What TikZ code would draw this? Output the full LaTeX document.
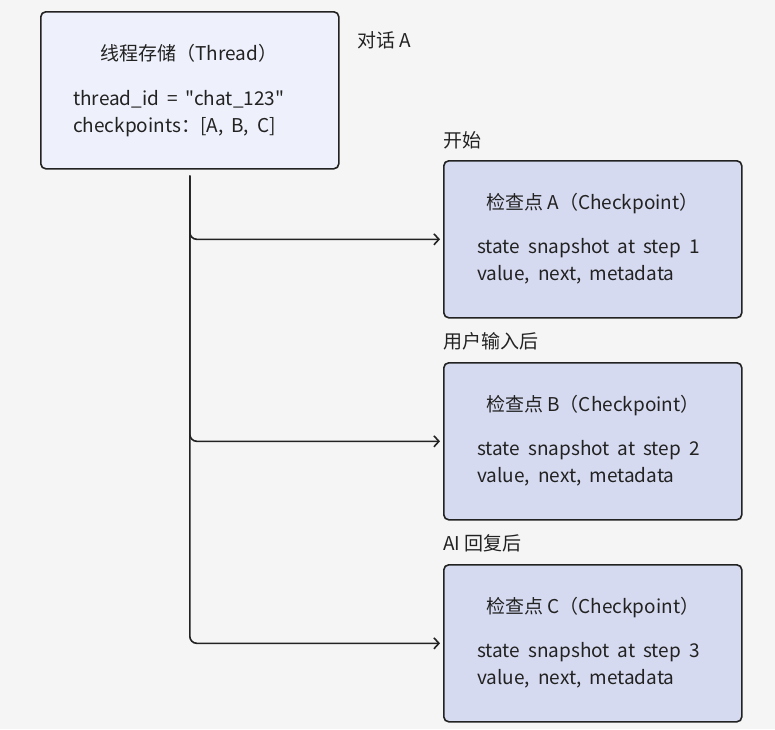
\documentclass[tikz,border=0pt]{standalone}
\usepackage{fontspec}
\newfontfamily\cjk{Noto Sans CJK SC}
\setmainfont{Noto Sans CJK SC}
\usetikzlibrary{arrows.meta,calc}
\definecolor{bg}{HTML}{F5F5F5}
\definecolor{threadfill}{HTML}{EEF0FB}
\definecolor{cpfill}{HTML}{D6DAF0}
\definecolor{ink}{HTML}{222222}
\newcommand\widesp{\spaceskip=0.42em\relax}
\begin{document}
\begin{tikzpicture}[x=1pt,y=-1pt,
  box/.style={draw=ink,line width=1.6pt,rounded corners=5pt,minimum width=298pt,minimum height=157pt,anchor=north west},
  ttl/.style={font=\cjk\fontsize{19}{28}\selectfont,text=ink,anchor=west,inner sep=0pt},
  txt/.style={font={\cjk\fontsize{19}{28}\selectfont\widesp},text=ink,anchor=west,inner sep=0pt},
  lbl/.style={font=\cjk\fontsize{19}{22}\selectfont,text=ink,anchor=west,inner sep=0pt},
  conn/.style={draw=ink,line width=1.6pt,rounded corners=7pt,-{Straight Barb[length=5pt,width=11pt]},shorten >=3pt}]
\fill[bg] (0,0) rectangle (775,729);
\useasboundingbox (0,0) rectangle (775,729);
\node[box,fill=threadfill] (thread) at (40,11) {};
\node[box,fill=cpfill] (cpA) at (443,160) {};
\node[box,fill=cpfill] (cpB) at (443,362) {};
\node[box,fill=cpfill] (cpC) at (443,564) {};
% thread text
\node[ttl,anchor=center] (tt) at (189,53) {线程存储（Thread）};
\node[txt] (t1) at (73,99) {thread\_id = "chat\_123"};
\node[txt] (t2) at (73,127) {checkpoints：[A, B, C]};
% checkpoint texts
\node[ttl] (a0) at (486,204) {检查点 A（Checkpoint）};
\node[txt] (a1) at (477,248) {state snapshot at step 1};
\node[txt] (a2) at (477,275) {value, next, metadata};
\node[ttl] (b0) at (486,406) {检查点 B（Checkpoint）};
\node[txt] (b1) at (477,450) {state snapshot at step 2};
\node[txt] (b2) at (477,477) {value, next, metadata};
\node[ttl] (c0) at (486,608) {检查点 C（Checkpoint）};
\node[txt] (c1) at (477,652) {state snapshot at step 3};
\node[txt] (c2) at (477,679) {value, next, metadata};
% edge labels
\node[lbl] (la) at (357,40) {对话 A};
\node[lbl] (l1) at (443,140) {开始};
\node[lbl] (l2) at (443,341) {用户输入后};
\node[lbl] (l3) at (443,543) {AI 回复后};
\coordinate (start) at ($(thread.south)+(0,6)$);
\draw[conn] (start) |- (cpA.west);
\draw[conn] (start) |- (cpB.west);
\draw[conn] (start) |- (cpC.west);
\end{tikzpicture}
\end{document}
